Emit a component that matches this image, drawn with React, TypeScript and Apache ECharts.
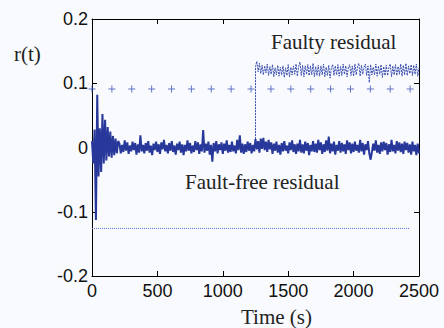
import React, { useEffect, useRef } from "react";
import * as echarts from "echarts";

// Sampling grid of the residual signals (s)
const sampleStep = 10;
const timeEnd = 2500;

// Fault-free residual, value x 1000, one sample every 10 s from 0 to 2500 s
const faultFreeResidual = [
  10, -25, 28, -113, 82, -45, 30, -38, 52, -25, 43, -20, 32, -14, 25, -16, 18, -12, 14, -9, 10,
  6, -9, 4, -7, 11, -5, 8, -10, 3, -6,
  9, -4, 7, -11, 5, -8, 19, -6, 4, -9,
  7, -5, 10, -8, 3, -12, 6, -4, 9, -7,
  5, -10, 8, -3, 12, -6, 4, -9, 7, -5,
  10, -7, 3, -11, 6, -4, 9, -8, 5, -12,
  4, -6, 11, -5, 7, -9, 3, -7, 10, -4,
  8, -10, 5, -6, 27, -8, 6, -5, 9, -11,
  4, -22, 7, -6, 10, -9, 5, -4, 8, -10,
  6, -5, 11, -8, 4, -7, 9, -6, 3, -9,
  12, -4, 19, -8, 6, -10, 5, -7, 9, -5,
  7, -9, 4, -6, 13, -3, 10, -8, 14, -2,
  15, -4, 9, -7, 12, -3, 8, -10, 6, -5,
  9, -8, 4, -11, 7, -6, 10, -5, 3, -9,
  8, -4, 11, -7, 5, -10, 6, -6, 12, -8,
  5, -9, 9, -5, 7, -12, 4, -6, 10, -7,
  6, -8, 12, -4, 8, -10, 5, -7, 11, -5,
  17, -9, 6, -6, 9, -11, 4, -5, 10, -8,
  7, -6, 5, -10, 11, -4, 8, -9, 6, -7,
  9, -5, 4, -8, 12, -6, 7, -11, 5, -4,
  10, -9, -19, -7, 6, -5, 11, -8, 4, -10,
  8, -6, 9, -4, 7, -11, 5, -7, 12, -6,
  4, -9, 10, -5, 8, -7, 6, -10, 9, -4,
  7, -8, 5, -11, 9, -6, 4, -12, 6, -9,
];

// Faulty residual after the fault onset, value x 1000, every 10 s from 1250 to 2500 s
const faultOnset = 1250;
const faultyResidual = [
  126, 134, 118, 131, 115, 128, 113, 127, 116, 130,
  112, 126, 114, 129, 110, 124, 113, 128, 111, 125,
  113, 127, 109, 124, 112, 129, 110, 125, 113, 127,
  114, 130, 111, 126, 133, 112, 128, 110, 127, 114,
  129, 112, 127, 113, 131, 110, 126, 112, 128, 111,
  127, 113, 130, 110, 125, 112, 128, 108, 124, 129,
  112, 127, 113, 129, 111, 126, 112, 130, 114, 127,
  110, 125, 129, 112, 127, 111, 130, 113, 126, 131,
  111, 128, 114, 125, 130, 112, 127, 101, 129, 113,
  125, 113, 130, 111, 127, 114, 129, 109, 126, 112,
  128, 112, 125, 130, 110, 127, 113, 129, 112, 126,
  114, 130, 111, 128, 113, 131, 112, 127, 115, 129,
  112, 128, 114, 130, 111, 124,
];

// Upper threshold (+ markers) and lower threshold (dotted line)
const upperThreshold = 0.091;
const upperMarkerTimes = [0, 152, 304, 456, 608, 760, 912, 1064, 1216, 1368, 1520, 1672, 1824, 1976, 2128, 2280, 2432];
const lowerThreshold = -0.126;
const lowerThresholdSpan = [0, 2425];

const xTicks = [0, 500, 1000, 1500, 2000, 2500];
const yTickLabels: Record<string, string> = { "-0.2": "-0.2", "-0.1": "-0.1", "0": "0", "0.1": "0.1", "0.2": "0.2" };

const texts = {
  faulty: "Faulty residual",
  faultFree: "Fault-free residual",
  yName: "r(t)",
  xName: "Time (s)",
};

export default function App() {
  const ref = useRef<HTMLDivElement>(null);
  useEffect(() => {
    if (!ref.current) return;
    const chart = echarts.init(ref.current, undefined, { renderer: "svg" });

    const ffData = faultFreeResidual.map((v, i) => [i * sampleStep, v / 1000]);
    const onsetIdx = faultOnset / sampleStep;
    const fData: number[][] = [[faultOnset, faultFreeResidual[onsetIdx] / 1000]].concat(
      faultyResidual.map((v, i) => [faultOnset + i * sampleStep, v / 1000])
    );
    const upperData = upperMarkerTimes.map((t) => [t, upperThreshold]);
    const lowerData = lowerThresholdSpan.map((t) => [t, lowerThreshold]);

    const tickFont = { fontFamily: "Liberation Sans, Arial, sans-serif", fontSize: 18, color: "#111" };
    const serif = "Liberation Serif, Times New Roman, serif";
    const axisLine = { show: true, onZero: false, lineStyle: { color: "#000", width: 1 } };
    const axisTick = { show: true, inside: true, length: 5, lineStyle: { color: "#000" } };

    chart.setOption({
      animation: false,
      backgroundColor: "#f8fafd",
      grid: { left: 92, right: 25, top: 19, bottom: 52, containLabel: false },
      xAxis: [
        {
          type: "value", min: 0, max: timeEnd, interval: 500, position: "bottom",
          axisLine, axisTick,
          axisLabel: { ...tickFont, margin: 6, formatter: (v: number) => (xTicks.includes(v) ? String(v) : "") },
          splitLine: { show: false },
        },
        {
          type: "value", min: 0, max: timeEnd, interval: 500, position: "top",
          axisLine, axisTick,
          axisLabel: { show: false }, splitLine: { show: false },
        },
      ],
      yAxis: [
        {
          type: "value", min: -0.2, max: 0.2, interval: 0.1, position: "left",
          axisLine, axisTick,
          axisLabel: {
            ...tickFont, margin: 4,
            formatter: (v: number) => yTickLabels[String(Math.round(v * 10) / 10)] ?? "",
          },
          splitLine: { show: false },
        },
        {
          type: "value", min: -0.2, max: 0.2, interval: 0.1, position: "right",
          axisLine, axisTick,
          axisLabel: { show: false }, splitLine: { show: false },
        },
      ],
      series: [
        {
          type: "line", data: lowerData, symbol: "none",
          lineStyle: { color: "#5a6fd0", width: 1, type: [1, 1] },
        },
        {
          type: "scatter", data: upperData,
          symbol: "path://M3,0h1v3h3v1h-3v3h-1v-3h-3v-1h3z", symbolSize: 7,
          itemStyle: { color: "#3d52b8" },
        },
        {
          type: "line", data: fData, symbol: "none",
          lineStyle: { color: "#3a4eb0", width: 1, type: [2, 1] },
        },
        {
          type: "line", data: ffData, symbol: "none",
          lineStyle: { color: "#28389a", width: 2 },
        },
      ],
      graphic: [
        { type: "text", left: 271, top: 31, style: { text: texts.faulty, font: `21px ${serif}`, fill: "#222" } },
        { type: "text", left: 185, top: 171, style: { text: texts.faultFree, font: `21px ${serif}`, fill: "#222" } },
        { type: "text", left: 14, top: 43, style: { text: texts.yName, font: `21px ${serif}`, fill: "#222" } },
        { type: "text", left: 241, top: 306, style: { text: texts.xName, font: `21px ${serif}`, fill: "#222" } },
      ],
    });
    return () => chart.dispose();
  }, []);
  return <div ref={ref} style={{ position: "fixed", left: 0, top: 0, width: 444, height: 328 }} />;
}
